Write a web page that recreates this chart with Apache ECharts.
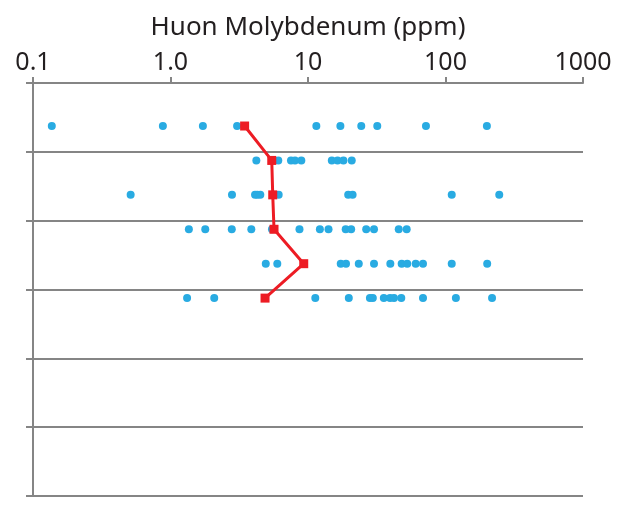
<!DOCTYPE html>
<html>
<head>
<meta charset="utf-8">
<script src="https://cdn.jsdelivr.net/npm/echarts@6/dist/echarts.min.js"></script>
<style>
  html, body { margin: 0; padding: 0; background: #ffffff; }
  #chart { width: 632px; height: 506px; }
</style>
</head>
<body>
<div id="chart"></div>
<script>
// ---- data ----
const axisTitle = 'Huon Molybdenum (ppm)';
const tickLabels = ['0.1', '1.0', '10', '100', '1000'];
const rowDepths = [1.25, 2.25, 3.25, 4.25, 5.25, 6.25];
const row1 = [0.137, 0.88, 1.72, 3.05, 11.5, 17.2, 24.4, 31.9, 72.1, 200];
const row2 = [4.21, 6.08, 7.52, 8.04, 8.94, 14.9, 16.4, 18.1, 20.8];
const row3 = [0.513, 2.80, 4.12, 4.28, 4.50, 6.12, 19.6, 21.1, 111, 246];
const row4 = [1.36, 1.79, 2.79, 3.87, 5.47, 8.67, 12.2, 14.1, 18.8, 20.6, 26.5, 30.2, 45.7, 52.2];
const row5 = [4.93, 5.98, 17.3, 18.9, 23.4, 30.2, 39.7, 48.0, 52.7, 60.7, 68.6, 111, 201];
const row6 = [1.32, 2.08, 11.3, 19.8, 28.2, 29.6, 35.6, 39.5, 42.2, 47.7, 68.6, 119, 218];
const medians = [3.46, 5.45, 5.54, 5.66, 9.31, 4.87];

const rows = [row1, row2, row3, row4, row5, row6];
const scatterData = [];
rows.forEach((r, i) => r.forEach(v => scatterData.push([v, rowDepths[i]])));
const medianData = medians.map((v, i) => [v, rowDepths[i]]);

const gray = '#858585';
const textColor = '#231f20';
const font = 'Noto Sans';

const chart = echarts.init(document.getElementById('chart'), null, { renderer: 'canvas' });
chart.setOption({
  animation: false,
  backgroundColor: '#ffffff',
  grid: { left: 33, right: 49, top: 83, bottom: 10, containLabel: false, outerBoundsMode: 'none' },
  xAxis: {
    type: 'log',
    logBase: 10,
    min: 0.1,
    max: 1000,
    position: 'top',
    name: axisTitle,
    nameLocation: 'middle',
    nameGap: 42,
    nameTextStyle: { color: textColor, fontSize: 26, fontFamily: font },
    axisLine: { show: true, lineStyle: { color: gray, width: 2 } },
    axisTick: { show: true, inside: false, length: 6, lineStyle: { color: gray, width: 2 } },
    axisLabel: {
      show: true, margin: 8, color: textColor, fontSize: 25, fontFamily: font,
      formatter: function (v) {
        const idx = Math.round(Math.log10(v)) + 1;
        return tickLabels[idx] !== undefined ? tickLabels[idx] : '';
      }
    },
    splitLine: { show: false },
    minorTick: { show: false }
  },
  yAxis: {
    type: 'value',
    inverse: true,
    min: 0,
    max: 12,
    interval: 2,
    axisLine: { show: true, onZero: false, lineStyle: { color: gray, width: 2 } },
    axisTick: { show: true, inside: false, length: 7, lineStyle: { color: gray, width: 2 } },
    axisLabel: { show: false },
    splitLine: { show: true, lineStyle: { color: gray, width: 2 } }
  },
  series: [
    {
      type: 'scatter',
      data: scatterData,
      symbol: 'circle',
      symbolSize: 8,
      itemStyle: { color: '#29abe2', opacity: 1 },
      z: 2
    },
    {
      type: 'line',
      data: medianData,
      symbol: 'rect',
      symbolSize: 9,
      lineStyle: { color: '#ed1c24', width: 3 },
      itemStyle: { color: '#ed1c24' },
      z: 3
    }
  ]
});
</script>
</body>
</html>
